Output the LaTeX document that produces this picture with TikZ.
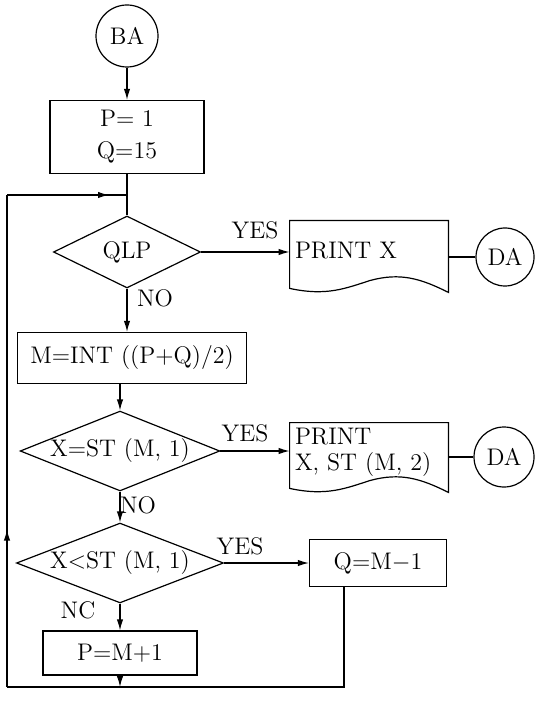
\documentclass[tikz,border=0pt]{standalone}
\usepackage{tikz}
\usetikzlibrary{arrows.meta,positioning,shapes.geometric,calc,decorations.markings}

% printed-document outline with a wavy lower edge
\newcommand{\docoutline}[1]{%
  \draw[flow] (#1.north west) -- (#1.north east) -- ($(#1.south east)+(0,11)$)
    .. controls ($(#1.south east)+(-28,-3)$) and ($(#1.south east)+(-48,-9)$) .. ($(#1.south east)+(-78,-1)$)
    .. controls ($(#1.south east)+(-103,7)$) and ($(#1.south east)+(-122,15)$) .. ($(#1.south west)+(0,7)$) -- cycle;}

\begin{document}
\begin{tikzpicture}[x=0.5pt, y=-0.5pt,
  font=\fontsize{12}{13}\selectfont,
  flow/.style={line width=0.6pt},
  arrow/.style={flow, -{Latex[length=5.5pt,width=3.2pt]}},
  midarrow/.style={flow, postaction={decorate},
    decoration={markings, mark=at position #1 with {\arrow{Latex[length=5.5pt,width=3.2pt]}}}},
  terminal/.style={circle, draw, flow, minimum size=#1, inner sep=0pt},
  box/.style={rectangle, draw, flow, inner sep=2pt},
  decision/.style={diamond, draw, flow, inner sep=0pt, aspect=2.5},
  doc/.style={rectangle, text width=74pt, align=left, inner xsep=2.5pt, inner ysep=0pt}
]
\useasboundingbox (0,0) rectangle (535,704);

\node[terminal=31pt] (ba) at (127,36) {BA};
\node[box, minimum width=77pt, minimum height=36.5pt, align=center] (init) at (127,137) {P$=$ 1\\[3pt]Q$=$15};
\node[decision, minimum width=73.5pt, minimum height=36pt] (qlp) at (127,252) {QLP};
\node[doc, minimum height=30pt] (out1) at (369,251) {PRINT X};
\docoutline{out1}
\node[terminal=29pt] (da1) at (505,257) {DA};

\node[box, minimum width=114.5pt, minimum height=25.5pt] (mid) at (132,358) {M$=$INT ((P+Q)/2)};
\node[decision, minimum width=98pt, minimum height=39pt] (eq) at (120,451) {X$=$ST (M, 1)};
\node[doc, minimum height=29pt] (out2) at (369,452) {PRINT\\X, ST (M, 2)};
\docoutline{out2}
\node[terminal=30pt] (da2) at (504,457) {DA};

\node[decision, minimum width=103.5pt, minimum height=39pt] (lt) at (120,563) {X$<$ST (M, 1)};
\node[box, minimum width=68.5pt, minimum height=23.5pt] (upper) at (378,563) {Q$=$M$-$1};
\node[box, minimum width=77pt, minimum height=22pt] (lower) at (120,653) {P$=$M$+$1};

\node (yes1) at (255,230) {YES};
\node (no1) at (155,298) {NO};
\node (yes2) at (245,433) {YES};
\node (no2) at (138,505) {NO};
\node (yes3) at (240,546) {YES};
\node (nc) at (78,610) {NC};

\coordinate (merge) at (127,195);
\coordinate (loopnw) at (7,195);
\coordinate (loopsw) at (7,687);
\coordinate (qdrop) at ($(upper.south west)+(35,0)$);
\coordinate (loopse) at (qdrop |- loopsw);
\coordinate (pjoin) at (lower.south |- loopse);

\draw[arrow] (ba) -- (init);
\draw[flow] (init) -- (qlp);
\draw[arrow] (qlp.east) -- (qlp.east -| out1.west);
\draw[flow] (da1.west -| out1.east) -- (da1);
\draw[arrow] (qlp) -- (qlp.south |- mid.north);
\draw[arrow] (eq.north |- mid.south) -- (eq);
\draw[arrow] (eq.east) -- (eq.east -| out2.west);
\draw[flow] (da2.west -| out2.east) -- (da2);
\draw[arrow] (eq) -- (lt);
\draw[arrow] (lt) -- (upper);
\draw[arrow] (lt) -- (lower);
\draw[arrow] (lower) -- (pjoin);
\draw[flow] (qdrop) -- (loopse) -- (loopsw);
\draw[midarrow=0.32] (loopsw) -- (loopnw);
\draw[midarrow=0.85] (loopnw) -- (merge);
\end{tikzpicture}
\end{document}
